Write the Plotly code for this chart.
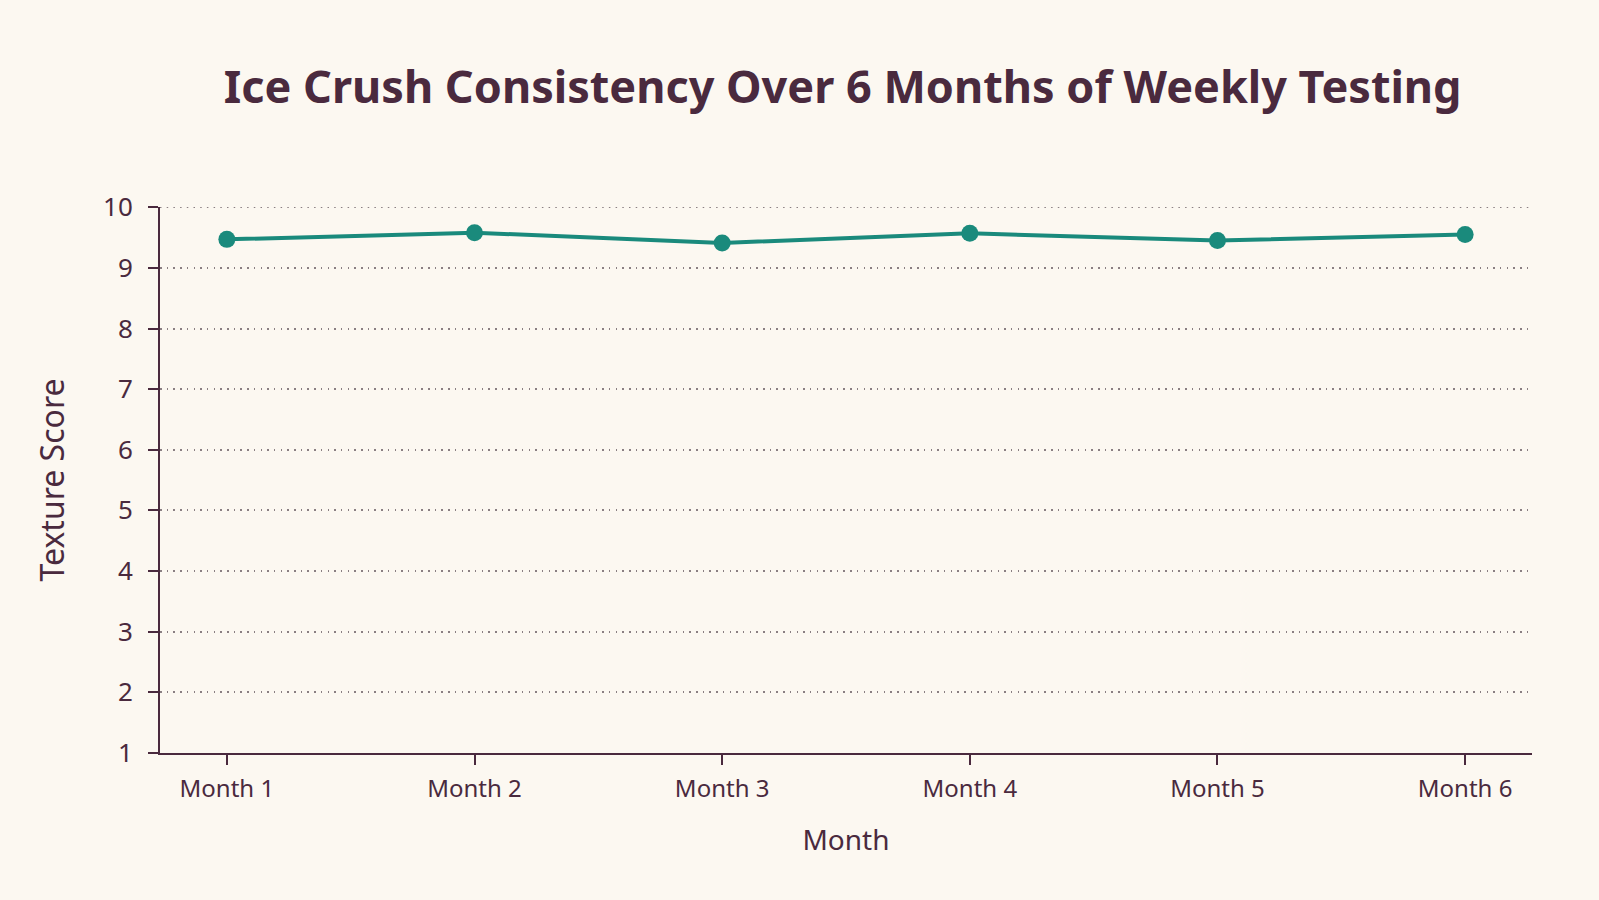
import plotly.graph_objects as go

months = ["Month 1", "Month 2", "Month 3", "Month 4", "Month 5", "Month 6"]
scores = [9.47, 9.58, 9.41, 9.57, 9.45, 9.55]
y_ticks = [1, 2, 3, 4, 5, 6, 7, 8, 9, 10]

ink = "#4a2a3e"
teal = "#1a8a7c"
bg = "#fcf8f1"
grid_color = "#8a7f82"
grid_dash = "1.5px,5.2px"

fig = go.Figure()
fig.add_trace(go.Scatter(
    x=months, y=scores, mode="lines+markers",
    line=dict(color=teal, width=4),
    marker=dict(color=teal, size=17),
    showlegend=False,
))

# top gridline at the upper edge of the range (plotly omits grid at the edge)
fig.add_shape(
    type="line", xref="paper", yref="y",
    x0=0, x1=1, y0=y_ticks[-1], y1=y_ticks[-1],
    line=dict(color=grid_color, width=1.5, dash=grid_dash),
    layer="below",
)

fig.update_layout(
    width=1599, height=900,
    paper_bgcolor=bg, plot_bgcolor=bg,
    margin=dict(l=160, r=67, t=207, b=147),
    font=dict(family="Noto Sans", color=ink),
    title=dict(
        text="<b>Ice Crush Consistency Over 6 Months of Weekly Testing</b>",
        x=0.527, xanchor="center", y=0.903, yanchor="middle",
        font=dict(size=45, family="Noto Sans", color=ink),
    ),
    xaxis=dict(
        type="category", range=[-0.27, 5.27],
        showgrid=False, showline=True, linecolor=ink, linewidth=2,
        ticks="outside", ticklen=10, tickwidth=2, tickcolor=ink,
        tickfont=dict(size=24, color=ink),
        ticklabelstandoff=3,
        title=dict(text="Month", font=dict(size=28, color=ink), standoff=28),
        zeroline=False,
    ),
    yaxis=dict(
        range=[0.998, 10.004], tickvals=y_ticks,
        showgrid=True, gridcolor=grid_color, griddash=grid_dash, gridwidth=1.5,
        showline=True, linecolor=ink, linewidth=2,
        ticks="outside", ticklen=10, tickwidth=2, tickcolor=ink,
        tickfont=dict(size=26, color=ink),
        ticklabelstandoff=10,
        title=dict(text="Texture Score", font=dict(size=32, color=ink), standoff=29),
        zeroline=False,
    ),
)

fig.write_html("out.html")
